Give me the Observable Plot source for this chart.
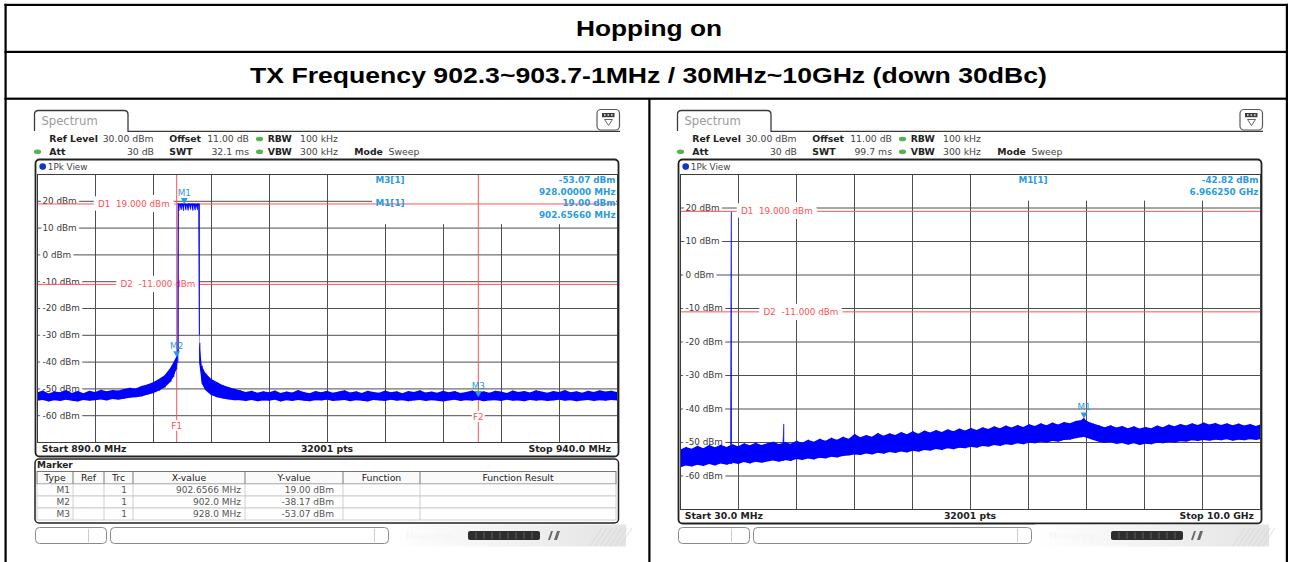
<!DOCTYPE html>
<html>
<head>
<meta charset="utf-8">
<script src="https://cdn.jsdelivr.net/npm/d3@7"></script>
<script src="https://cdn.jsdelivr.net/npm/@observablehq/plot@0.6"></script>
<style>
  body { margin: 0; background: #fff; }
  #page { position: relative; width: 1292px; height: 562px; overflow: hidden; }
  .sweep { position: absolute; }
</style>
</head>
<body>
<div id="page"></div>
<script>
// ---------- report text ----------
const reportTitle = "Hopping on";
const reportSubtitle = "TX Frequency 902.3~903.7-1MHz / 30MHz~10GHz (down 30dBc)";

// ---------- level axis (dBm) ----------
const levelLabels = [20, 10, 0, -10, -20, -30, -40, -50, -60];
const displayLines = [{name: "D1", level: 19.0}, {name: "D2", level: -11.0}];

// ---------- sweep 1: band edge, 890 – 940 MHz ----------
// rows: [frequency MHz, max level dBm, min level dBm] of the displayed trace
const bandEdgeTrace = [
  [890.0,-51.5,-54.6],[890.5,-50.8,-54.3],[891.0,-51.9,-54.9],[891.5,-51.2,-54.4],[892.0,-51.4,-54.7],
  [892.5,-50.6,-54.2],[893.0,-51.7,-54.6],[893.5,-51.0,-54.9],[894.0,-51.8,-54.3],[894.5,-50.9,-54.6],
  [895.0,-51.3,-54.4],[895.5,-50.5,-54.1],[896.0,-51.1,-54.5],[896.5,-50.6,-54.0],[897.0,-50.8,-54.2],
  [897.5,-50.2,-53.9],[898.0,-49.8,-53.5],[898.5,-50.0,-53.3],[899.0,-49.1,-53.0],[899.5,-48.5,-52.4],
  [900.0,-47.7,-51.8],[900.5,-46.5,-50.9],[901.0,-45.1,-49.7],[901.5,-42.3,-47.6],[901.75,-40.3,-45.8],
  [902.0,-38.2,-43.0],[902.1,-35.5,-40.5],[902.14,19.0,-37.0],
  [902.2,19.0,16.3],[902.3,18.9,18.5],[902.4,19.0,16.6],[902.5,19.0,18.4],[902.6,18.9,16.2],
  [902.7,19.0,18.6],[902.8,19.0,16.5],[902.9,18.8,18.3],[903.0,19.0,16.4],[903.1,19.0,18.5],
  [903.2,18.9,16.7],[903.3,19.0,18.4],[903.4,19.0,16.3],[903.5,18.9,18.5],[903.6,19.0,16.5],
  [903.7,18.8,18.3],[903.8,19.0,16.6],[903.9,19.0,18.2],
  [903.96,18.9,-30.0],[904.0,-33.0,-41.0],[904.2,-41.5,-48.2],[904.5,-44.2,-50.6],[905.0,-46.4,-52.5],
  [905.5,-47.6,-53.3],[906.0,-48.7,-53.8],[906.5,-49.5,-54.1],[907.0,-50.1,-54.4],
  [907.5,-50.7,-54.4],[908.0,-51.3,-54.7],[908.5,-50.9,-54.3],[909.0,-51.6,-54.8],[909.5,-51.1,-54.5],
  [910.0,-51.4,-54.6],[910.5,-50.8,-54.2],[911.0,-51.7,-54.9],[911.5,-51.2,-54.4],[912.0,-51.5,-54.7],
  [912.5,-50.6,-54.3],[913.0,-51.3,-54.6],[913.5,-51.8,-54.8],[914.0,-51.0,-54.4],[914.5,-51.4,-54.5],
  [915.0,-50.9,-54.2],[915.5,-51.6,-54.7],[916.0,-51.2,-54.5],[916.5,-50.7,-54.3],[917.0,-51.5,-54.8],
  [917.5,-51.1,-54.4],[918.0,-51.7,-54.6],[918.5,-50.9,-54.9],[919.0,-51.3,-54.3],[919.5,-51.6,-54.5],
  [920.0,-50.8,-54.7],[920.5,-51.4,-54.2],[921.0,-51.1,-54.6],[921.5,-51.8,-54.4],[922.0,-51.0,-54.8],
  [922.5,-51.3,-54.5],[923.0,-50.7,-54.3],[923.5,-51.5,-54.7],[924.0,-51.2,-54.4],[924.5,-51.6,-54.6],
  [925.0,-50.9,-54.9],[925.5,-51.4,-54.5],[926.0,-51.0,-54.2],[926.5,-51.7,-54.7],[927.0,-51.3,-54.4],
  [927.5,-50.8,-54.6],[928.0,-51.5,-54.3],[928.5,-51.1,-54.8],[929.0,-51.6,-54.5],[929.5,-50.9,-54.4],
  [930.0,-51.2,-54.7],[930.5,-51.7,-54.2],[931.0,-50.8,-54.6],[931.5,-51.3,-54.5],[932.0,-51.0,-54.8],
  [932.5,-51.5,-54.3],[933.0,-50.7,-54.6],[933.5,-51.2,-54.4],[934.0,-51.6,-54.7],[934.5,-51.0,-54.5],
  [935.0,-51.3,-54.2],[935.5,-50.6,-54.6],[936.0,-51.4,-54.4],[936.5,-51.1,-54.8],[937.0,-51.6,-54.5],
  [937.5,-50.9,-54.3],[938.0,-51.3,-54.7],[938.5,-50.7,-54.4],[939.0,-51.2,-54.6],[939.5,-50.9,-54.3],
  [940.0,-51.3,-54.5]
];
const bandEdgeMarkers = [
  {name: "M1", freq: 902.6566, level: 19.00},
  {name: "M2", freq: 902.0, level: -38.17},
  {name: "M3", freq: 928.0, level: -53.07}
];
const bandEdgeReadout = ["M3", "M1"];
const bandEdgeFreqLines = [{name: "F1", freq: 902.0}, {name: "F2", freq: 928.0}];
const bandEdgeSettings = {refLevel: "30.00 dBm", att: "30 dB", offset: "11.00 dB", swt: "32.1 ms",
  rbw: "100 kHz", vbw: "300 kHz", mode: "Sweep", points: 32001, start: 890, stop: 940};

// ---------- sweep 2: spurious, 30 MHz – 10 GHz ----------
// rows: [frequency MHz, max level dBm, min level dBm]
const spuriousTrace = [
  [30,-52.3,-57.6],[130,-51.5,-57.0],[230,-52.0,-57.3],[330,-51.1,-56.8],[430,-51.9,-57.2],
  [530,-50.9,-56.6],[630,-51.6,-57.0],[730,-50.8,-56.4],[830,-51.5,-56.8],[895,-51.0,-56.5],
  [904,18.7,-56.4],[913,-51.2,-56.6],[930,-50.7,-56.2],[1030,-51.3,-56.6],[1130,-50.4,-56.0],
  [1230,-51.0,-56.4],[1330,-50.2,-55.9],[1430,-50.9,-56.2],[1530,-50.4,-55.8],[1630,-49.9,-55.5],
  [1730,-50.6,-55.9],[1795,-50.3,-55.6],[1805,-44.6,-55.6],[1815,-50.2,-55.5],[1830,-50.0,-55.4],
  [1930,-50.5,-55.7],[2030,-49.6,-55.1],[2130,-50.2,-55.4],[2230,-49.3,-54.9],[2330,-49.9,-55.2],
  [2430,-49.0,-54.7],[2530,-49.6,-54.9],[2630,-48.7,-54.4],[2730,-49.3,-54.6],[2830,-48.4,-54.2],
  [2930,-49.0,-54.0],[3030,-47.6,-53.7],[3130,-48.6,-53.9],[3230,-47.9,-53.4],[3330,-48.4,-53.7],
  [3430,-47.3,-53.2],[3530,-48.1,-53.5],[3630,-47.4,-53.0],[3730,-47.9,-53.3],[3830,-47.0,-52.8],
  [3930,-47.7,-53.1],[4030,-46.8,-52.6],[4130,-47.5,-52.9],[4230,-46.6,-52.4],[4330,-47.2,-52.6],
  [4430,-46.4,-52.1],[4530,-47.0,-52.4],[4630,-46.2,-51.9],[4730,-46.8,-52.2],[4830,-46.0,-51.7],
  [4930,-46.6,-51.9],[5030,-45.8,-51.4],[5130,-46.4,-51.7],[5230,-45.6,-51.2],[5330,-46.1,-51.4],
  [5430,-45.3,-50.9],[5530,-45.9,-51.2],[5630,-45.1,-50.7],[5730,-45.7,-50.9],[5830,-44.9,-50.4],
  [5930,-45.5,-50.7],[6030,-44.7,-50.2],[6130,-45.2,-50.4],[6230,-44.4,-49.9],[6330,-45.0,-50.2],
  [6430,-44.2,-49.7],[6530,-44.8,-49.9],[6630,-44.0,-49.4],[6730,-44.4,-49.3],[6830,-43.7,-48.9],
  [6930,-43.4,-48.6],[6966.25,-42.82,-48.4],[7030,-43.8,-48.8],[7130,-44.5,-49.4],[7230,-45.0,-49.9],
  [7330,-45.6,-50.3],[7430,-45.0,-50.0],[7530,-45.7,-50.6],[7630,-45.2,-50.3],[7730,-45.9,-50.8],
  [7830,-45.3,-50.4],[7930,-46.0,-50.9],[8030,-45.5,-50.5],[8130,-45.9,-50.7],[8230,-45.1,-50.2],
  [8330,-45.6,-50.4],[8430,-44.8,-50.0],[8530,-45.3,-50.2],[8630,-44.6,-49.8],[8730,-45.1,-49.9],
  [8830,-44.4,-49.5],[8930,-44.9,-49.7],[9030,-44.2,-49.4],[9130,-44.8,-49.6],[9230,-44.3,-49.3],
  [9330,-44.9,-49.5],[9430,-44.4,-49.2],[9530,-45.0,-49.6],[9630,-44.5,-49.3],[9730,-45.1,-49.5],
  [9830,-44.6,-49.2],[9930,-45.2,-49.4],[10000,-44.8,-49.2]
];
const spuriousMarkers = [{name: "M1", freq: 6966.25, level: -42.82}];
const spuriousReadout = ["M1"];
const spuriousSettings = {refLevel: "30.00 dBm", att: "30 dB", offset: "11.00 dB", swt: "99.7 ms",
  rbw: "100 kHz", vbw: "300 kHz", mode: "Sweep", points: 32001, start: 30, stop: 10000};

// ---------- colours ----------
const red = "#ff5252", cyan = "#2a9be3", traceBlue = "#0000ff", gridGray = "#4e4e4e";
const uiFont = "DejaVu Sans";

const fmtMHz = f => `${f.toFixed(5)} MHz`;
const fmtGHz = f => `${(f / 1000).toFixed(6)} GHz`;
const fmtSpan = f => f >= 1000 ? `${(f / 1000).toFixed(1)} GHz` : `${f.toFixed(1)} MHz`;
const fmtTableFreq = f => Number.isInteger(f * 10) ? `${f.toFixed(1)} MHz` : `${f} MHz`;

// ---------- one spectrum diagram ----------
function sweepPlot({settings, trace, markers, readout, fmtFreq, freqLines = [], width, height}) {
  const {start, stop} = settings;
  const xGrid = d3.range(11).map(i => start + (stop - start) * i / 10);
  const yGrid = d3.range(11).map(i => 30 - 10 * i);
  const lineH = 11.8;
  const infoW = 245;
  // marker readout lines: name + level on one row, frequency on the next
  const readoutRows = readout.flatMap((name, i) => {
    const m = markers.find(d => d.name === name);
    return [
      {row: 2 * i, left: `${name}[1]`, right: `${m.level.toFixed(2)} dBm`},
      {row: 2 * i + 1, left: "", right: fmtFreq(m.freq)}
    ];
  });
  const marks = [
    Plot.ruleX(xGrid, {stroke: gridGray, strokeWidth: 1}),
    Plot.ruleY(yGrid, {stroke: gridGray, strokeWidth: 1}),
    // white panel behind the marker readout
    (index, scales, values, dims) => d3.create("svg:rect")
      .attr("x", dims.width - infoW).attr("y", 1)
      .attr("width", infoW - 1).attr("height", readout.length * 2 * lineH + 2)
      .attr("fill", "white").node(),
    Plot.text(levelLabels, {y: d => d, frameAnchor: "left", dx: 5, textAnchor: "start",
      text: d => `${d} dBm`, fill: "#3a3a3a", stroke: "white", strokeWidth: 6}),
    Plot.ruleY(displayLines, {y: "level", stroke: red, strokeWidth: 1}),
    ...displayLines.map((d, i) => Plot.text([d], {y: "level", frameAnchor: "left", dx: 60.5 + 22.5 * i,
      textAnchor: "start", text: e => `${e.name}  ${e.level.toFixed(3)} dBm`, fill: red,
      stroke: "white", strokeWidth: 10})),
    Plot.ruleX(freqLines, {x: "freq", stroke: red, strokeWidth: 1}),
    ...freqLines.map((d, i) => Plot.text([d], {x: "freq", frameAnchor: "bottom", dy: -13.5 - 9.5 * i,
      text: "name", fill: red, stroke: "white", strokeWidth: 4})),
    Plot.areaY(trace, {x: d => d[0], y1: d => d[2], y2: d => d[1], fill: traceBlue}),
    Plot.ruleX(trace, {x: d => d[0], y1: d => d[2], y2: d => d[1], stroke: traceBlue, strokeWidth: 0.9}),
    Plot.dot(markers, {x: "freq", y: "level", symbol: "triangle", rotate: 180, r: 2.6, fill: cyan, dy: -4}),
    Plot.text(markers, {x: "freq", y: "level", text: "name", dy: -11, fill: cyan}),
    ...readoutRows.map(r => [
      Plot.text([r], {frameAnchor: "top-right", dx: -242, dy: 2 + lineH * r.row, lineAnchor: "top",
        textAnchor: "start", text: "left", fill: cyan, fontWeight: "bold"}),
      Plot.text([r], {frameAnchor: "top-right", dx: -2, dy: 2 + lineH * r.row, lineAnchor: "top",
        textAnchor: "end", text: "right", fill: cyan, fontWeight: "bold"})
    ]).flat(),
    Plot.frame({stroke: "#3c3c3c"})
  ];
  return Plot.plot({
    width, height, margin: 0,
    x: {domain: [start, stop], axis: null},
    y: {domain: [-70, 30], axis: null},
    style: {fontFamily: uiFont, fontSize: "8.8px", background: "white", overflow: "visible"},
    marks
  });
}

// ---------- page chrome ----------
const page = d3.select("#page");
const chrome = page.append("svg").attr("width", 1292).attr("height", 562)
  .style("position", "absolute").style("left", "0px").style("top", "0px");

const defs = chrome.append("defs");
const grad = defs.append("linearGradient").attr("id", "statusGrad").attr("x1", 0).attr("x2", 1).attr("y1", 0).attr("y2", 0);
grad.append("stop").attr("offset", "0%").attr("stop-color", "#ffffff");
grad.append("stop").attr("offset", "100%").attr("stop-color", "#e4e4e4");

function label(g, x, y, str, o = {}) {
  const t = g.append("text").attr("x", x).attr("y", y).attr("dy", "0.35em").text(str)
    .attr("font-family", o.family || uiFont).attr("font-size", o.size || 9.3)
    .attr("font-weight", o.bold ? "bold" : null).attr("fill", o.fill || "#444")
    .attr("text-anchor", o.anchor || "start");
  if (o.length) t.attr("textLength", o.length).attr("lengthAdjust", "spacingAndGlyphs");
  return t;
}

// report table frame
const ink = "#000";
[[4.5, 3.8, 1283.5, 2.2], [4.5, 3.8, 2.2, 560], [1285.8, 3.8, 2.2, 560],
 [4.5, 50.8, 1283.5, 2.2], [4.5, 97.6, 1283.5, 2.2], [648.3, 98, 2.2, 470]]
  .forEach(([x, y, w, h]) => chrome.append("rect").attr("x", x).attr("y", y).attr("width", w).attr("height", h).attr("fill", ink));
label(chrome, 649, 28, reportTitle, {family: "Liberation Sans", size: 22, bold: true, fill: "#000", anchor: "middle", length: 146});
label(chrome, 648.5, 75, reportSubtitle, {family: "Liberation Sans", size: 22, bold: true, fill: "#000", anchor: "middle", length: 797});

function greenDot(g, x, y) {
  g.append("ellipse").attr("cx", x).attr("cy", y).attr("rx", 3.6).attr("ry", 2.3).attr("fill", "#55b24f");
}

function drawScreen(ox, s, frameBottom, barY) {
  const g = chrome.append("g").attr("transform", `translate(${ox},0)`);
  // tab and header rule
  g.append("path").attr("d", "M34.5,131 V114.5 Q34.5,110.5 38.5,110.5 H124 Q128,110.5 128,114.5 V131.3 H620")
    .attr("fill", "none").attr("stroke", "#3a3a3a").attr("stroke-width", 1.3);
  label(g, 41.5, 121, "Spectrum", {size: 11.6, fill: "#9b9b9b"});
  // menu icon
  g.append("rect").attr("x", 597).attr("y", 109.5).attr("width", 22.5).attr("height", 20.5).attr("rx", 4)
    .attr("fill", "white").attr("stroke", "#5a5a5a").attr("stroke-width", 1.2);
  g.append("rect").attr("x", 602).attr("y", 113).attr("width", 12.5).attr("height", 4.2).attr("fill", "#3c3c3c");
  [604, 607.5, 611].forEach(x => g.append("rect").attr("x", x).attr("y", 114.2).attr("width", 1.6).attr("height", 1.6).attr("fill", "#ddd"));
  g.append("path").attr("d", "M604.5,119.5 L612.5,119.5 L608.5,125.5 Z").attr("fill", "none").attr("stroke", "#666").attr("stroke-width", 1);
  // instrument settings
  const r1 = 139, r2 = 151.7;
  label(g, 49.3, r1, "Ref Level", {bold: true, fill: "#222"});
  label(g, 102.7, r1, s.refLevel);
  label(g, 169.3, r1, "Offset", {bold: true, fill: "#222"});
  label(g, 249, r1, s.offset, {anchor: "end"});
  greenDot(g, 259.5, r1);
  label(g, 267.7, r1, "RBW", {bold: true, fill: "#222"});
  label(g, 300, r1, s.rbw);
  greenDot(g, 37.5, r2);
  label(g, 49.3, r2, "Att", {bold: true, fill: "#222"});
  label(g, 154, r2, s.att, {anchor: "end"});
  label(g, 169.3, r2, "SWT", {bold: true, fill: "#222"});
  label(g, 249, r2, s.swt, {anchor: "end"});
  greenDot(g, 259.5, r2);
  label(g, 267.7, r2, "VBW", {bold: true, fill: "#222"});
  label(g, 300, r2, s.vbw);
  label(g, 354.3, r2, "Mode", {bold: true, fill: "#222"});
  label(g, 388.5, r2, s.mode);
  // diagram window
  g.append("rect").attr("x", 35.5).attr("y", 159.5).attr("width", 583).attr("height", frameBottom - 159.5).attr("rx", 4)
    .attr("fill", "white").attr("stroke", "#222").attr("stroke-width", 1.8);
  g.append("circle").attr("cx", 42.7).attr("cy", 166.6).attr("r", 3.3).attr("fill", "#1234c8");
  label(g, 47.8, 166.6, "1Pk View", {size: 8.8});
  label(g, 41.7, barY, `Start ${fmtSpan(s.start)}`, {bold: true, fill: "#222", size: 9.3});
  label(g, 327, barY, `${s.points} pts`, {bold: true, fill: "#222", size: 9.3, anchor: "middle"});
  label(g, 611, barY, `Stop ${fmtSpan(s.stop)}`, {bold: true, fill: "#222", size: 9.3, anchor: "end"});
  // status bar
  g.append("rect").attr("x", 392).attr("y", 524.5).attr("width", 234).attr("height", 22).attr("fill", "url(#statusGrad)");
  g.append("rect").attr("x", 35.5).attr("y", 527.5).attr("width", 71).attr("height", 16).attr("rx", 4)
    .attr("fill", "white").attr("stroke", "#8a8a8a");
  g.append("line").attr("x1", 88.5).attr("x2", 88.5).attr("y1", 529).attr("y2", 542).attr("stroke", "#ccc");
  g.append("rect").attr("x", 110.5).attr("y", 527.5).attr("width", 278).attr("height", 16).attr("rx", 4)
    .attr("fill", "white").attr("stroke", "#8a8a8a");
  g.append("line").attr("x1", 374.5).attr("x2", 374.5).attr("y1", 529).attr("y2", 542).attr("stroke", "#ccc");
  label(g, 406, 535.5, "Measuring...", {size: 8.8, fill: "#f4f4f4"});
  g.append("rect").attr("x", 468).attr("y", 531).attr("width", 72).attr("height", 9).attr("rx", 2).attr("fill", "#2e2e2e");
  d3.range(8).forEach(i => g.append("line").attr("x1", 476 + i * 8).attr("x2", 476 + i * 8).attr("y1", 532).attr("y2", 539)
    .attr("stroke", "#5c5c5c"));
  g.append("path").attr("d", "M548,540 L551,531 L553,531 L550,540 Z M554,540 L557,531 L560,531 L557,540 Z").attr("fill", "#6a6a6a");
  d3.range(7).forEach(i => g.append("line").attr("x1", 590 + i * 5).attr("y1", 546).attr("x2", 602 + i * 5).attr("y2", 528)
    .attr("stroke", "#d6d6d6").attr("stroke-width", 0.8));
  return g;
}

// left screen: band edge sweep with marker table
const gl = drawScreen(0, bandEdgeSettings, 456.5, 449);
gl.append("rect").attr("x", 35).attr("y", 459).attr("width", 583.5).attr("height", 64).attr("rx", 4)
  .attr("fill", "white").attr("stroke", "#222").attr("stroke-width", 1.5);
label(gl, 37, 465, "Marker", {bold: true, fill: "#222", size: 9});
const colEdges = [37, 73, 104, 133, 245, 343, 420, 616];
const colHeads = ["Type", "Ref", "Trc", "X-value", "Y-value", "Function", "Function Result"];
const colPad = [3, 3, 6, 4, 9, 4, 4];
gl.append("rect").attr("x", 37).attr("y", 471.5).attr("width", 579).attr("height", 12.5).attr("fill", "#fafafa")
  .attr("stroke", "#555").attr("stroke-width", 0.8);
colEdges.slice(1, -1).forEach(x => gl.append("line").attr("x1", x).attr("x2", x).attr("y1", 471.5).attr("y2", 484)
  .attr("stroke", "#555").attr("stroke-width", 0.8));
colHeads.forEach((h, i) => label(gl, (colEdges[i] + colEdges[i + 1]) / 2, 478, h, {size: 9.3, fill: "#222", anchor: "middle"}));
bandEdgeMarkers.forEach((m, r) => {
  const y0 = 484 + r * 12;
  gl.append("rect").attr("x", 37).attr("y", y0).attr("width", 579).attr("height", 12).attr("fill", "white")
    .attr("stroke", "#c4c4c4").attr("stroke-width", 0.8);
  colEdges.slice(1, -1).forEach(x => gl.append("line").attr("x1", x).attr("x2", x).attr("y1", y0).attr("y2", y0 + 12)
    .attr("stroke", "#c4c4c4").attr("stroke-width", 0.8));
  const cells = [m.name, "", "1", fmtTableFreq(m.freq), `${m.level.toFixed(2)} dBm`, "", ""];
  cells.forEach((c, i) => c && label(gl, colEdges[i + 1] - colPad[i], y0 + 6, c, {size: 9, fill: "#555", anchor: "end"}));
});

// right screen: spurious sweep
drawScreen(643, spuriousSettings, 523.5, 516);

// ---------- diagrams ----------
function place(svg, left, top) {
  const div = page.append("div").attr("class", "sweep").style("left", `${left}px`).style("top", `${top}px`);
  div.node().appendChild(svg);
}
place(sweepPlot({settings: bandEdgeSettings, trace: bandEdgeTrace, markers: bandEdgeMarkers,
  readout: bandEdgeReadout, fmtFreq: fmtMHz, freqLines: bandEdgeFreqLines, width: 580, height: 268}), 37, 174);
place(sweepPlot({settings: spuriousSettings, trace: spuriousTrace, markers: spuriousMarkers,
  readout: spuriousReadout, fmtFreq: fmtGHz, width: 580, height: 335}), 680, 174);
</script>
</body>
</html>
